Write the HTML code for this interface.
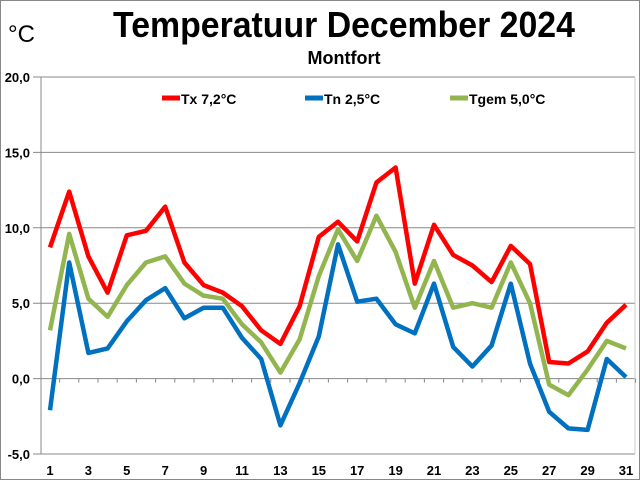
<!DOCTYPE html>
<html><head><meta charset="utf-8"><style>
body{margin:0;background:#fff}
svg text{font-family:"Liberation Sans",sans-serif}
</style></head><body>
<svg id="chart" width="640" height="480" xmlns="http://www.w3.org/2000/svg">
<rect x="0.5" y="0.5" width="639" height="479" fill="#fff" stroke="#888"/>
<text x="344" y="37" font-size="36" font-weight="bold" text-anchor="middle" transform="translate(344,0) scale(0.94,1) translate(-344,0)">Temperatuur December 2024</text>
<text x="344" y="64" font-size="18" font-weight="bold" text-anchor="middle">Montfort</text>
<text x="8" y="42" font-size="24">°C</text>
<g id="grid"></g><g id="series"></g>
<g>
<line x1="162" y1="98" x2="180" y2="98" stroke="#ff0000" stroke-width="5"/><text x="181" y="104" font-size="14" font-weight="bold">Tx 7,2°C</text>
<line x1="305" y1="98" x2="323" y2="98" stroke="#0070c0" stroke-width="5"/><text x="324" y="104" font-size="14" font-weight="bold">Tn 2,5°C</text>
<line x1="450" y1="98" x2="468" y2="98" stroke="#92b550" stroke-width="5"/><text x="469" y="104" font-size="14" font-weight="bold">Tgem 5,0°C</text>
</g>
</svg>
<script>
const days=[1,2,3,4,5,6,7,8,9,10,11,12,13,14,15,16,17,18,19,20,21,22,23,24,25,26,27,28,29,30,31];
const tx=[8.7,12.4,8.1,5.7,9.5,9.8,11.4,7.7,6.2,5.7,4.8,3.2,2.3,4.8,9.4,10.4,9.1,13.0,14.0,6.3,10.2,8.2,7.5,6.4,8.8,7.6,1.1,1.0,1.8,3.7,4.9];
const tn=[-2.1,7.7,1.7,2.0,3.8,5.2,6.0,4.0,4.7,4.7,2.7,1.3,-3.1,-0.3,2.8,8.9,5.1,5.3,3.6,3.0,6.3,2.1,0.8,2.2,6.3,1.0,-2.2,-3.3,-3.4,1.3,0.1];
const tgem=[3.2,9.6,5.3,4.1,6.2,7.7,8.1,6.3,5.5,5.3,3.6,2.4,0.4,2.6,6.8,9.9,7.8,10.8,8.4,4.7,7.8,4.7,5.0,4.7,7.7,5.0,-0.4,-1.1,0.6,2.5,2.0];
const yTicks=[-5,0,5,10,15,20];
const yTickLabels=["-5,0","0,0","5,0","10,0","15,0","20,0"];
const xTickLabels=[1,3,5,7,9,11,13,15,17,19,21,23,25,27,29,31];
const NS="http://www.w3.org/2000/svg";
const L=41,R=635,T=77,B=454,yMin=-5,yMax=20;
const y=v=>B-(v-yMin)/(yMax-yMin)*(B-T);
const x=d=>50+(d-1)*19.2;
const grid=document.getElementById('grid');
function mk(tag,attrs,parent){const e=document.createElementNS(NS,tag);for(const k in attrs)e.setAttribute(k,attrs[k]);parent.appendChild(e);return e;}
yTicks.forEach((t,i)=>{
  const g=mk('line',{x1:33,x2:R,y1:y(t),y2:y(t),stroke:'#888','stroke-width':1},grid);
  
  
  const tx_=mk('text',{x:30,y:y(t)+5,'font-size':13,'font-weight':'bold','text-anchor':'end'},grid);
  tx_.textContent=yTickLabels[i];
  
  
});
const ax=mk('line',{x1:L,x2:L,y1:T,y2:B,stroke:'#888'},grid);


const rx=mk('line',{x1:R,x2:R,y1:T,y2:B,stroke:'#ccc'},grid);


days.forEach(d=>{const tk=mk('line',{x1:x(d)+9.6,x2:x(d)+9.6,y1:y(0),y2:y(0)+4,stroke:'#888'},grid);
  
  });
xTickLabels.forEach(d=>{const t=mk('text',{x:x(d),y:475,'font-size':13,'font-weight':'bold','text-anchor':'middle'},grid);
  t.textContent=d;
  
  });
const ser=document.getElementById('series');
[[tx,'#ff0000','line-tx'],[tn,'#0070c0','line-tn'],[tgem,'#92b550','line-tgem']].forEach(([vals,c,n])=>{
  const p=mk('polyline',{points:vals.map((v,i)=>x(days[i])+','+y(v)).join(' '),fill:'none',stroke:c,'stroke-width':4.5,'stroke-linejoin':'round'},ser);
  
  
});
ser.appendChild(ser.children[0]);ser.appendChild(ser.children[0]);
</script>
</body></html>
